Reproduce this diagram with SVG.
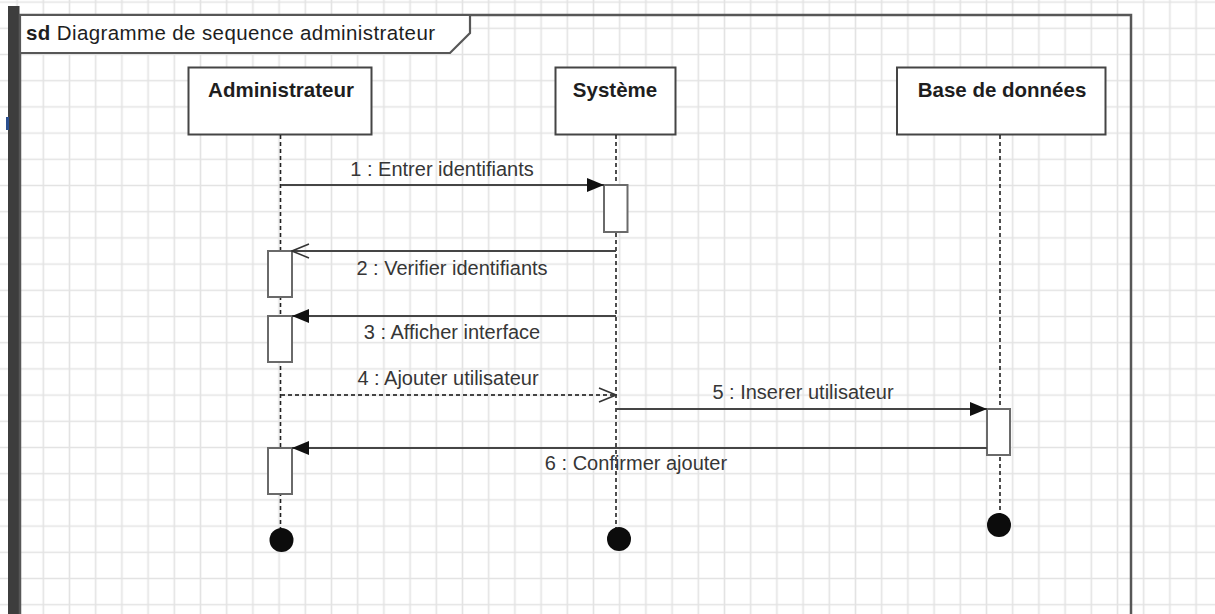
<svg xmlns="http://www.w3.org/2000/svg" width="1215" height="614" viewBox="0 0 1215 614">
  <style>
    .head { font-family: "Liberation Sans", Arial, sans-serif; font-size: 20.5px; font-weight: bold; fill: #1e1e1e; text-anchor: middle; }
    .msg { font-family: "Liberation Sans", Arial, sans-serif; font-size: 20px; fill: #363636; text-anchor: middle; }
    .title { font-family: "Liberation Sans", Arial, sans-serif; font-size: 20.5px; fill: #1e1e1e; }
    .box { fill: #ffffff; stroke: #454545; stroke-width: 2; }
    .act { fill: #ffffff; stroke: #6a6a6a; stroke-width: 2; }
    .life { stroke: #222222; stroke-width: 1.6; stroke-dasharray: 4 3; fill: none; }
    .call { stroke: #454545; stroke-width: 2; fill: none; }
    .reply { stroke: #454545; stroke-width: 2; fill: none; stroke-dasharray: 4 3; }
    .end { fill: #0c0c0c; }
  </style>
  <defs>
    <pattern id="grid" patternUnits="userSpaceOnUse" x="30.2" y="15.2" width="26.2" height="26.2">
      <path d="M13.1 0V26.2M0 13.1H26.2" stroke="#e3e3e3" stroke-width="1.6" fill="none"/>
    </pattern>
    <marker id="filled" markerUnits="userSpaceOnUse" viewBox="0 0 17 14" refX="17" refY="7" markerWidth="17" markerHeight="14" orient="auto">
      <path d="M0 0L17 7L0 14Z" fill="#111111"/>
    </marker>
    <marker id="open" markerUnits="userSpaceOnUse" viewBox="-1 -1 19 16" refX="17" refY="7" markerWidth="19" markerHeight="16" orient="auto">
      <path d="M0 0L17 7L0 14" fill="none" stroke="#333333" stroke-width="1.5"/>
    </marker>
  </defs>

  <!-- canvas with grid -->
  <rect width="1215" height="614" fill="#ffffff"/>
  <rect width="1215" height="614" fill="url(#grid)"/>

  <!-- editor side bar -->
  <rect x="8" y="6" width="11.5" height="608" fill="#3d3d3d"/>
  <rect x="6" y="117" width="3" height="13" fill="#2b4f8f"/>

  <!-- sequence frame -->
  <g id="frame">
    <path d="M20 620V15H1131V620" fill="none" stroke="#575757" stroke-width="2.5"/>
    <path d="M20 15H470V33L450 53H20Z" fill="#ffffff" stroke="#575757" stroke-width="2.2"/>
    <text class="title" x="26" y="40" textLength="409" lengthAdjust="spacing"><tspan font-weight="bold">sd</tspan> Diagramme de sequence administrateur</text>
  </g>

  <!-- lifelines -->
  <g id="administrateur">
    <rect class="box" x="188.5" y="67.5" width="183" height="67"/>
    <text class="head" x="281" y="97">Administrateur</text>
    <path class="life" d="M280.5 135V530"/>
    <rect class="act" x="268" y="251" width="24" height="46"/>
    <rect class="act" x="268" y="316" width="24" height="46"/>
    <rect class="act" x="268" y="448" width="24" height="46"/>
    <circle class="end" cx="281.5" cy="540" r="12"/>
  </g>

  <g id="systeme">
    <rect class="box" x="555.5" y="67.5" width="120" height="67"/>
    <text class="head" x="615" y="97">Système</text>
    <path class="life" d="M616 135V528"/>
    <rect class="act" x="604" y="185" width="23.5" height="47"/>
    <circle class="end" cx="619" cy="539" r="12"/>
  </g>

  <g id="base-de-donnees">
    <rect class="box" x="897" y="67.5" width="208.5" height="67"/>
    <text class="head" x="1002" y="97">Base de données</text>
    <path class="life" d="M1000 135V514"/>
    <rect class="act" x="987" y="409" width="23" height="46"/>
    <circle class="end" cx="999" cy="525" r="12"/>
  </g>

  <!-- messages -->
  <g id="connectors">
    <path class="call" d="M281 185H604" marker-end="url(#filled)"/>
    <text class="msg" x="442" y="176">1 : Entrer identifiants</text>

    <path class="call" d="M616 251H292" marker-end="url(#open)"/>
    <text class="msg" x="452" y="275">2 : Verifier identifiants</text>

    <path class="call" d="M616 316H292" marker-end="url(#filled)"/>
    <text class="msg" x="452" y="339">3 : Afficher interface</text>

    <path class="reply" d="M281 395H616" marker-end="url(#open)"/>
    <text class="msg" x="448" y="385">4 : Ajouter utilisateur</text>

    <path class="call" d="M616 409H987" marker-end="url(#filled)"/>
    <text class="msg" x="803" y="399">5 : Inserer utilisateur</text>

    <path class="call" d="M987 448H292" marker-end="url(#filled)"/>
    <text class="msg" x="636" y="470">6 : Confirmer ajouter</text>
  </g>
</svg>
